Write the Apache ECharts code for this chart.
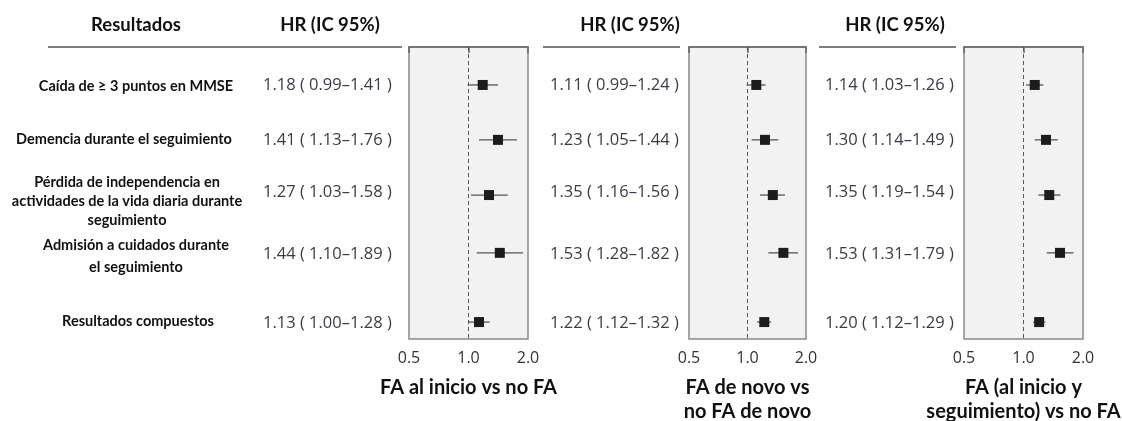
<!DOCTYPE html>
<html>
<head>
<meta charset="utf-8">
<script src="https://cdn.jsdelivr.net/npm/echarts@6/dist/echarts.min.js"></script>
<style>
  html, body { margin: 0; padding: 0; background: #ffffff; }
  #chart { width: 1122px; height: 421px; }
</style>
</head>
<body>
<div id="chart"></div>
<script>
// Outcomes (one row per outcome)
const outcomes = [
  ['Caída de ≥ 3 puntos en MMSE'],
  ['Demencia durante el seguimiento'],
  ['Pérdida de independencia en', 'actividades de la vida diaria durante', 'seguimiento'],
  ['Admisión a cuidados durante', 'el seguimiento'],
  ['Resultados compuestos']
];

// Comparison titles under each panel
const comparisons = [
  ['FA al inicio vs no FA'],
  ['FA de novo vs', 'no FA de novo'],
  ['FA (al inicio y', 'seguimiento) vs no FA']
];

// Hazard ratios and 95% confidence limits, per comparison
const hrBaseline = [1.18, 1.41, 1.27, 1.44, 1.13];
const loBaseline = [0.99, 1.13, 1.03, 1.10, 1.00];
const hiBaseline = [1.41, 1.76, 1.58, 1.89, 1.28];

const hrDeNovo = [1.11, 1.23, 1.35, 1.53, 1.22];
const loDeNovo = [0.99, 1.05, 1.16, 1.28, 1.12];
const hiDeNovo = [1.24, 1.44, 1.56, 1.82, 1.32];

const hrAny = [1.14, 1.30, 1.35, 1.53, 1.20];
const loAny = [1.03, 1.14, 1.19, 1.31, 1.12];
const hiAny = [1.26, 1.49, 1.54, 1.79, 1.29];

const xTicks = [0.5, 1.0, 2.0];
const headerResults = 'Resultados';
const headerHR = 'HR (IC 95%)';

// ---- layout ----
const plotTop = 47, plotHeight = 292;
const rowPos = [0.130, 0.318, 0.507, 0.705, 0.942];   // marker row position inside the plot (0..1)
const valueY = [85, 140, 192, 254, 323];              // centre of the HR text per row (px)
const labelY = [86, 139, 201, 256, 321];              // centre of each outcome label (px)
const labelX = [136, 124, 127, 136, 138];
const panels = [
  { left: 409, width: 119, textX: 263, headerX: 330, ruleFrom: 48,  ruleTo: 402 },
  { left: 689, width: 117, textX: 550, headerX: 630, ruleFrom: 543, ruleTo: 680 },
  { left: 964, width: 119, textX: 825, headerX: 895, ruleFrom: 819, ruleTo: 956 }
];
const sets = [
  [hrBaseline, loBaseline, hiBaseline],
  [hrDeNovo, loDeNovo, hiDeNovo],
  [hrAny, loAny, hiAny]
];

const labelFont = 'Lato, "Open Sans", sans-serif';
const valueFont = '"Open Sans", "DejaVu Sans", sans-serif';
const fmt = v => v.toFixed(2);

const grids = [], xAxes = [], yAxes = [], series = [], graphics = [];

panels.forEach((p, i) => {
  grids.push({
    left: p.left, top: plotTop, width: p.width, height: plotHeight,
    show: true, backgroundColor: '#f2f2f2', borderColor: '#8a8a8a', borderWidth: 1.5
  });
  xAxes.push({
    gridIndex: i, type: 'log', logBase: 2, min: xTicks[0], max: xTicks[xTicks.length - 1],
    axisLine: { show: true, lineStyle: { color: '#666', width: 1.5 } },
    axisTick: { show: true, length: 6, inside: false, lineStyle: { color: '#666', width: 1.5 } },
    axisLabel: { color: '#333', fontFamily: valueFont, fontSize: 16, margin: 11,
                 formatter: v => Number(v).toFixed(1) },
    splitLine: { show: false }
  });
  yAxes.push({
    gridIndex: i, type: 'value', min: 0, max: 1, inverse: true, show: false
  });

  const [hr, lo, hi] = sets[i];
  const data = hr.map((v, k) => [v, rowPos[k], lo[k], hi[k]]);
  series.push({
    type: 'custom',
    xAxisIndex: i, yAxisIndex: i,
    data: data,
    encode: { x: [0, 2, 3], y: 1 },
    renderItem: (params, api) => {
      const y = api.value(1);
      const c = api.coord([api.value(0), y]);
      const a = api.coord([api.value(2), y]);
      const b = api.coord([api.value(3), y]);
      const s = 10;
      return {
        type: 'group',
        children: [
          { type: 'line', shape: { x1: a[0], y1: a[1], x2: b[0], y2: b[1] },
            style: { stroke: '#555', lineWidth: 1.3 } },
          { type: 'rect', shape: { x: c[0] - s / 2, y: c[1] - s / 2, width: s, height: s },
            style: { fill: '#1c1c1c' } }
        ]
      };
    },
    markLine: {
      silent: true, symbol: 'none', label: { show: false },
      lineStyle: { color: '#555', type: [4, 3], width: 1 },
      data: [{ xAxis: 1 }]
    },
    z: 5
  });

  // HR (IC 95%) column text
  hr.forEach((v, k) => {
    graphics.push({
      type: 'text', x: p.textX, y: valueY[k],
      style: { text: `${fmt(v)} ( ${fmt(lo[k])}–${fmt(hi[k])} )`,
               fill: '#3b3b48', font: `16.5px ${valueFont}`, verticalAlign: 'middle' }
    });
  });

  // column header and rule
  graphics.push({
    type: 'text', x: p.headerX, y: 25,
    style: { text: headerHR, fill: '#111', font: `bold 18.5px ${labelFont}`,
             align: 'center', verticalAlign: 'middle' }
  });
  graphics.push({
    type: 'line', shape: { x1: p.ruleFrom, y1: plotTop, x2: p.ruleTo, y2: plotTop },
    style: { stroke: '#555', lineWidth: 1.5 }
  });

  // comparison title under the panel
  const twoLines = comparisons[i].length > 1;
  graphics.push({
    type: 'text', x: p.left + p.width / 2, y: twoLines ? 400 : 388,
    style: { text: comparisons[i].join('\n'), fill: '#111', font: `bold 20px ${labelFont}`,
             align: 'center', verticalAlign: 'middle', lineHeight: 24 }
  });
});

// outcome labels
outcomes.forEach((lines, k) => {
  graphics.push({
    type: 'text', x: labelX[k], y: labelY[k],
    style: { text: lines.join('\n'), fill: '#111', font: `bold 14.5px ${labelFont}`,
             align: 'center', verticalAlign: 'middle', lineHeight: k === 3 ? 22 : 19 }
  });
});

graphics.push({
  type: 'text', x: 136, y: 25,
  style: { text: headerResults, fill: '#111', font: `bold 18.5px ${labelFont}`,
           align: 'center', verticalAlign: 'middle' }
});

const chart = echarts.init(document.getElementById('chart'), null, { renderer: 'canvas' });
chart.setOption({
  animation: false,
  backgroundColor: '#ffffff',
  grid: grids,
  xAxis: xAxes,
  yAxis: yAxes,
  series: series,
  graphic: graphics
});
</script>
</body>
</html>
